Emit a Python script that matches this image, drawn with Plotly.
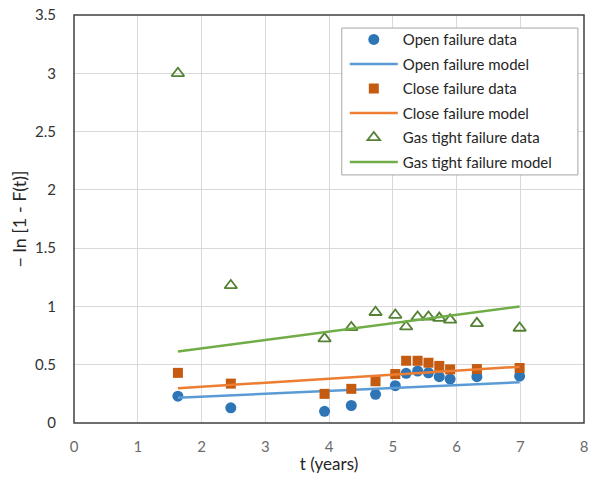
import plotly.graph_objects as go

# Open failure data
open_t = [1.63, 2.46, 3.93, 4.35, 4.73, 5.04, 5.21, 5.39, 5.56, 5.73, 5.90, 6.32, 6.99]
open_y = [0.23, 0.13, 0.10, 0.15, 0.246, 0.32, 0.426, 0.446, 0.431, 0.397, 0.377, 0.397, 0.403]
# Close failure data
close_t = [1.63, 2.46, 3.93, 4.35, 4.73, 5.04, 5.21, 5.39, 5.56, 5.73, 5.90, 6.32, 6.99]
close_y = [0.43, 0.338, 0.25, 0.293, 0.358, 0.42, 0.534, 0.534, 0.517, 0.49, 0.46, 0.463, 0.472]
# Gas tight failure data
gas_t = [1.63, 2.46, 3.93, 4.35, 4.73, 5.04, 5.21, 5.39, 5.56, 5.73, 5.90, 6.32, 6.99]
gas_y = [3.0, 1.18, 0.724, 0.82, 0.95, 0.926, 0.826, 0.91, 0.91, 0.90, 0.885, 0.855, 0.815]
# Models
model_t = [1.63, 6.99]
open_model = [0.216, 0.35]
close_model = [0.298, 0.483]
gas_model = [0.613, 1.0]

x_ticks = [0, 1, 2, 3, 4, 5, 6, 7, 8]
y_ticks = [0, 0.5, 1, 1.5, 2, 2.5, 3, 3.5]
y_tick_text = ["0", "0.5", "1", "1.5", "2", "2.5", "3", "3.5"]

FONT = "Lato"

fig = go.Figure()
fig.add_trace(go.Scatter(x=open_t, y=open_y, mode="markers", name="Open failure data", legendgroup="a",
                         marker=dict(symbol="circle", size=11, color="#2E75B6")))
fig.add_trace(go.Scatter(x=model_t, y=open_model, mode="lines", name="Open failure model", legendgroup="b",
                         line=dict(color="#5B9BD5", width=2.5)))
fig.add_trace(go.Scatter(x=close_t, y=close_y, mode="markers", name="Close failure data", legendgroup="c",
                         marker=dict(symbol="square", size=10, color="#C55A11")))
fig.add_trace(go.Scatter(x=model_t, y=close_model, mode="lines", name="Close failure model", legendgroup="d",
                         line=dict(color="#ED7D31", width=2.5)))
fig.add_trace(go.Scatter(x=gas_t, y=gas_y, mode="markers", name="Gas tight failure data", legendgroup="e",
                         marker=dict(symbol="triangle-up-open", size=11, color="#548235",
                                     line=dict(width=1.8, color="#548235"))))
fig.add_trace(go.Scatter(x=model_t, y=gas_model, mode="lines", name="Gas tight failure model", legendgroup="f",
                         line=dict(color="#70AD47", width=2.5)))

fig.update_layout(
    width=580, height=466,
    margin=dict(l=66, r=4, t=7, b=51, autoexpand=False),
    paper_bgcolor="white", plot_bgcolor="white",
    font=dict(family=FONT, color="#595959", size=13),
    showlegend=True,
    legend=dict(x=0.531, y=0.98, xanchor="left", yanchor="top",
                bgcolor="rgba(0,0,0,0)", borderwidth=0,
                font=dict(family=FONT, size=15, color="#262626"),
                itemwidth=48, tracegroupgap=2),
    shapes=[
        dict(type="rect", xref="paper", yref="paper", x0=0.525, y0=0.608, x1=0.988, y1=0.968,
             fillcolor="white", line=dict(color="#A6A6A6", width=1), layer="above"),
        dict(type="rect", xref="paper", yref="paper", x0=0, y0=0, x1=1, y1=1,
             line=dict(color="#404040", width=1.5), layer="above"),
    ],
)
fig.update_xaxes(range=[0, 8], tickvals=x_ticks, showgrid=True, gridcolor="#D9D9D9", gridwidth=1,
                 showline=False, zeroline=False, ticks="outside", ticklen=10,
                 tickcolor="rgba(0,0,0,0)", tickfont=dict(size=15, color="#6b6b6b"),
                 ticklabeloverflow="allow", automargin=False,
                 title=dict(text="t (years)", font=dict(size=17, color="#262626"), standoff=9))
fig.update_yaxes(range=[0, 3.5], tickvals=y_ticks, ticktext=y_tick_text, showgrid=True,
                 gridcolor="#D9D9D9", gridwidth=1,
                 showline=False, zeroline=False, ticks="outside", ticklen=14,
                 tickcolor="rgba(0,0,0,0)", tickfont=dict(size=15, color="#333333"),
                 ticklabeloverflow="allow", automargin=False,
                 title=dict(text="− ln [1 - F(t)]", font=dict(size=18, color="#262626"), standoff=6))

fig.write_html("out.html")
